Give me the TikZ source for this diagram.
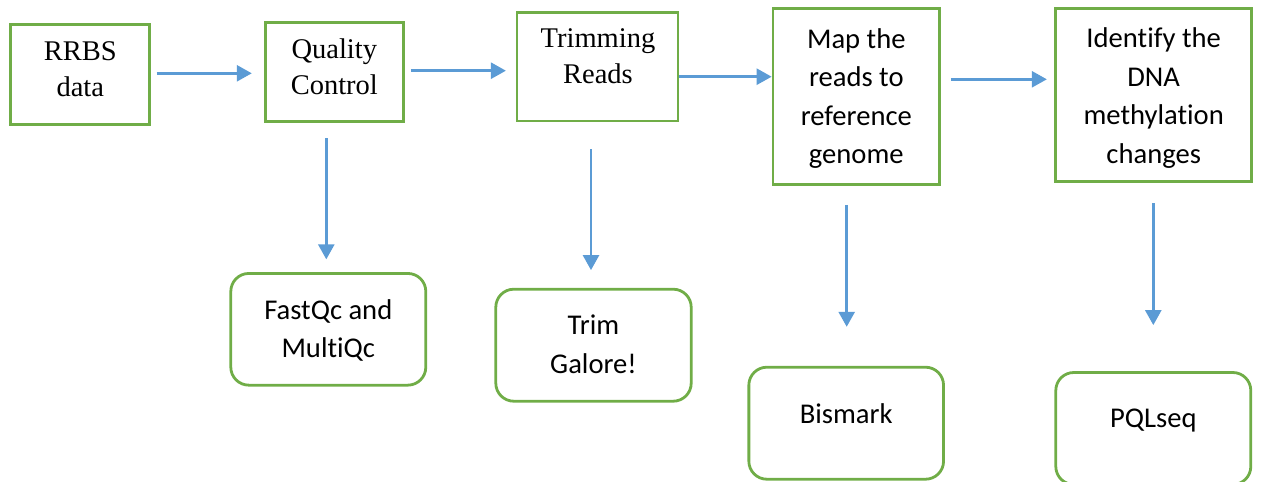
\documentclass[tikz,border=0pt]{standalone}
\usepackage{fontspec}
\setmainfont{Liberation Serif}
\newfontfamily\calib[Ligatures=NoCommon]{Carlito}
\usetikzlibrary{arrows.meta}
\definecolor{boxgreen}{HTML}{70AD47}
\definecolor{arrblue}{HTML}{5B9BD5}
\begin{document}
\begin{tikzpicture}[x=1pt,y=-1pt,
  sqbox/.style={draw=boxgreen, line width=2.8pt, inner sep=0pt},
  rbox/.style={draw=boxgreen, line width=2.8pt, inner sep=0pt, rounded corners=18pt},
  txtserif/.style={anchor=north, inner sep=0pt, align=center, font=\fontsize{28.5}{36}\selectfont},
  txtsans/.style={anchor=north, inner sep=0pt, align=center, font=\calib\fontsize{28.6}{38.5}\selectfont},
  arr/.style={draw=arrblue, line width=2.6pt, -{Triangle[length=15pt,width=16pt]}}]
\useasboundingbox (0,0) rectangle (1262,482);
\clip (0,0) rectangle (1262,482);
% top row boxes
\node[sqbox, minimum width=139pt, minimum height=99.7pt] (rrbs) at (80.3,74.7) {};
\node[sqbox, minimum width=138pt, minimum height=99pt] (qc) at (334.5,72) {};
\node[sqbox, minimum width=161pt, minimum height=108.5pt] (trim) at (597.5,66.7) {};
\node[sqbox, minimum width=166.5pt, minimum height=175.7pt] (map) at (856.3,96.7) {};
\node[sqbox, minimum width=196.3pt, minimum height=173pt] (ident) at (1153.7,94.7) {};
% bottom row boxes
\node[rbox, minimum width=195pt, minimum height=111.7pt] (fastqc) at (328.3,329.3) {};
\node[rbox, minimum width=195.4pt, minimum height=112pt] (galore) at (593.5,345.2) {};
\node[rbox, minimum width=194.7pt, minimum height=112pt] (bismark) at (846.2,423.2) {};
\node[rbox, minimum width=195pt, minimum height=112pt] (pql) at (1153.3,428.5) {};
% texts
\node[txtserif] (trrbs) at (80.3,41.7) {RRBS\\data};
\node[txtserif] (tqc) at (334.3,38.5) {Quality\\Control};
\node[txtserif] (ttrim) at (598,28) {Trimming\\Reads};
\node[txtsans] (tmap) at (856.3,28) {Map the\\reads to\\reference\\genome};
\node[txtsans] (tident) at (1153.7,27.5) {Identify the\\DNA\\methylation\\changes};
\node[txtsans] (tfastqc) at (328.3,299) {FastQc and\\MultiQc};
\node[txtsans] (tgalore) at (593.5,315) {Trim\\Galore!};
\node[txtsans] (tbismark) at (846.2,403) {Bismark};
\node[txtsans] (tpql) at (1153.3,408.3) {PQLseq};
% horizontal connectors
\coordinate (h1) at ([yshift=1.4pt]rrbs.east);
\coordinate (h2) at ([yshift=1.3pt]qc.east);
\coordinate (h3) at ([yshift=-10pt]trim.east);
\coordinate (h4) at ([yshift=17.4pt]map.east);
\draw[arr, shorten <=5.4pt, shorten >=12.3pt] (h1) -- (h1 -| qc.west);
\draw[arr, shorten <=6pt, shorten >=9.7pt] (h2) -- (h2 -| trim.west);
\draw[arr] (h3) -- (h3 -| map.west);
\draw[arr, shorten <=10pt, shorten >=7.3pt] (h4) -- (h4 -| ident.west);
% vertical connectors
\coordinate (v1) at ([xshift=-8.2pt]qc.south);
\coordinate (v2) at ([xshift=-6.5pt]trim.south);
\coordinate (v3) at ([xshift=-9.6pt]map.south);
\coordinate (v4) at ([xshift=-0.4pt]ident.south);
\draw[arr, shorten <=15.3pt, shorten >=12.7pt] (v1) -- (v1 |- fastqc.north);
\draw[arr, shorten <=27pt, shorten >=17.7pt] (v2) -- (v2 |- galore.north);
\draw[arr, shorten <=19pt, shorten >=39pt] (v3) -- (v3 |- bismark.north);
\draw[arr, shorten <=20.6pt, shorten >=46pt] (v4) -- (v4 |- pql.north);
\end{tikzpicture}
\end{document}
